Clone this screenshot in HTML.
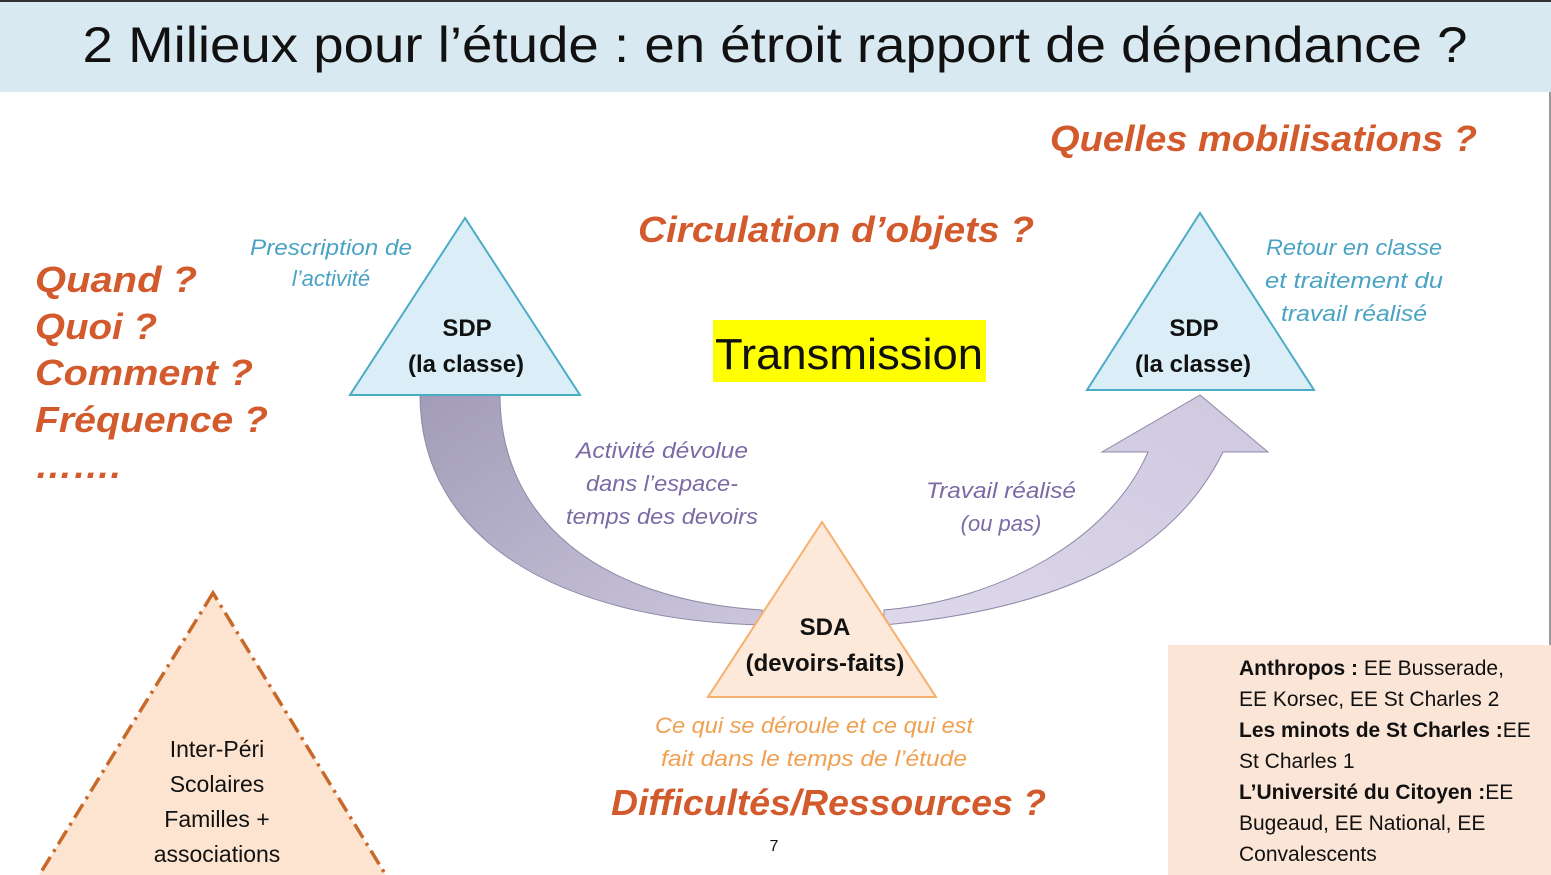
<!DOCTYPE html>
<html><head><meta charset="utf-8"><style>
html,body{margin:0;padding:0;background:#fff;}
svg{display:block}
text{font-family:"Liberation Sans",sans-serif}
</style></head><body>
<svg width="1551" height="875" viewBox="0 0 1551 875" xmlns="http://www.w3.org/2000/svg">
<defs>
<linearGradient id="gl" x1="0" y1="0" x2="1" y2="1">
<stop offset="0" stop-color="#a29cb8"/><stop offset="1" stop-color="#cbc6dc"/></linearGradient>
<linearGradient id="gr" x1="0" y1="1" x2="1" y2="0">
<stop offset="0" stop-color="#ddd8ea"/><stop offset="1" stop-color="#cfc8e0"/></linearGradient>
</defs>
<rect x="0" y="0" width="1551" height="92" fill="#d9e9f2"/>
<rect x="0" y="0" width="1551" height="2" fill="#333"/>
<rect x="1549" y="92" width="2" height="783" fill="#999"/>
<text x="775" y="62" text-anchor="middle" font-size="50" fill="#111" textLength="1385" lengthAdjust="spacingAndGlyphs">2 Milieux pour l’étude  : en étroit rapport de dépendance ?</text>

<path d="M420,395 C420,540 560,620 762,625 L762,610 C600,600 500,520 500,395 Z" fill="url(#gl)" stroke="#8f88a8" stroke-width="1"/>
<path d="M884,625 C1050,610 1170,560 1223,452 L1268,452 L1200,395 L1102,452 L1148,452 C1110,540 1000,600 884,610 Z" fill="url(#gr)" stroke="#8f88a8" stroke-width="1"/>

<polygon points="465,218 350,395 580,395" fill="#dbeef7" stroke="#4bacc6" stroke-width="2"/>
<polygon points="1200,213 1087,390 1314,390" fill="#dbeef7" stroke="#4bacc6" stroke-width="2"/>
<polygon points="822,522 708,697 936,697" fill="#fde9d9" stroke="#f5b06e" stroke-width="2"/>
<polygon points="213,593 30,890 395,890" fill="#fce4d0" stroke="#c8692a" stroke-width="3.5" stroke-dasharray="16,6,3,6"/>
<rect x="1168" y="645" width="383" height="230" fill="#fbe5d6"/>

<g font-weight="bold" font-size="24" fill="#111" text-anchor="middle">
<text x="467" y="336">SDP</text><text x="466" y="372">(la classe)</text>
<text x="1194" y="336">SDP</text><text x="1193" y="372">(la classe)</text>
<text x="825" y="635">SDA</text><text x="825" y="671">(devoirs-faits)</text>
</g>
<rect x="713" y="320" width="273" height="62" fill="#ffff00"/>
<text x="849" y="369" text-anchor="middle" font-size="44" fill="#111" textLength="268" lengthAdjust="spacingAndGlyphs">Transmission</text>

<g font-weight="bold" font-style="italic" fill="#d25a2c">
<text x="1050" y="151" font-size="36" textLength="427" lengthAdjust="spacingAndGlyphs">Quelles mobilisations ?</text>
<text x="638" y="242" font-size="36" textLength="396" lengthAdjust="spacingAndGlyphs">Circulation d’objets ?</text>
<text x="611" y="815" font-size="36" textLength="435" lengthAdjust="spacingAndGlyphs">Difficultés/Ressources ?</text>
<text x="35" y="292" font-size="36" textLength="162" lengthAdjust="spacingAndGlyphs">Quand ?</text>
<text x="35" y="339" font-size="36" textLength="122" lengthAdjust="spacingAndGlyphs">Quoi ?</text>
<text x="35" y="385" font-size="36" textLength="218" lengthAdjust="spacingAndGlyphs">Comment ?</text>
<text x="35" y="432" font-size="36" textLength="233" lengthAdjust="spacingAndGlyphs">Fréquence ?</text>
<text x="35" y="478" font-size="36" textLength="86" lengthAdjust="spacingAndGlyphs">…….</text>
</g>
<g font-style="italic" font-size="22" fill="#4aa3c4" text-anchor="middle">
<text x="331" y="255" textLength="162" lengthAdjust="spacingAndGlyphs">Prescription de</text><text x="331" y="286">l’activité</text>
<text x="1354" y="255" textLength="176" lengthAdjust="spacingAndGlyphs">Retour en classe</text><text x="1354" y="288" textLength="178" lengthAdjust="spacingAndGlyphs">et traitement du</text><text x="1354" y="321" textLength="146" lengthAdjust="spacingAndGlyphs">travail réalisé</text>
</g>
<g font-style="italic" font-size="22" fill="#7b6ba5" text-anchor="middle">
<text x="662" y="458" textLength="172" lengthAdjust="spacingAndGlyphs">Activité dévolue</text><text x="662" y="491" textLength="152" lengthAdjust="spacingAndGlyphs">dans l’espace-</text><text x="662" y="524" textLength="192" lengthAdjust="spacingAndGlyphs">temps des devoirs</text>
<text x="1001" y="498" textLength="150" lengthAdjust="spacingAndGlyphs">Travail réalisé</text><text x="1001" y="531">(ou pas)</text>
</g>
<g font-style="italic" font-size="22" fill="#f0a050" text-anchor="middle">
<text x="814" y="733" textLength="318" lengthAdjust="spacingAndGlyphs">Ce qui se déroule et ce qui est</text><text x="814" y="766" textLength="306" lengthAdjust="spacingAndGlyphs">fait dans le temps de l’étude</text>
</g>
<text x="774" y="851" font-size="16" fill="#111" text-anchor="middle">7</text>
<g font-size="23" fill="#111" text-anchor="middle">
<text x="217" y="757">Inter-Péri</text><text x="217" y="792">Scolaires</text><text x="217" y="827">Familles +</text><text x="217" y="862">associations</text>
</g>
<g font-size="21" fill="#111">
<text x="1239" y="675"><tspan font-weight="bold">Anthropos :</tspan> EE Busserade,</text>
<text x="1239" y="706">EE Korsec, EE St Charles 2</text>
<text x="1239" y="737"><tspan font-weight="bold">Les minots de St Charles :</tspan>EE</text>
<text x="1239" y="768">St Charles 1</text>
<text x="1239" y="799"><tspan font-weight="bold">L’Université du Citoyen :</tspan>EE</text>
<text x="1239" y="830">Bugeaud, EE National, EE</text>
<text x="1239" y="861">Convalescents</text>
</g>
</svg>
</body></html>
